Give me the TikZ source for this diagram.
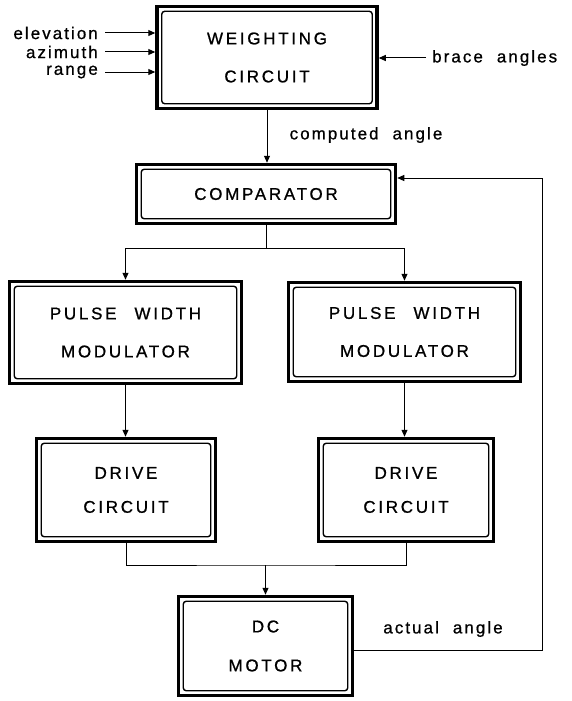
\documentclass[tikz,border=0pt]{standalone}
\usepackage{fontspec}
\setmainfont{Liberation Sans}
\newfontfamily\capsf[LetterSpace=16,FakeBold=0.9]{Liberation Sans}
\newfontfamily\lowsf[LetterSpace=12,FakeBold=0.8]{Liberation Sans}
\usetikzlibrary{arrows.meta}
\tikzset{
  blk/.style={draw, line width=3.5pt, inner sep=0pt, align=center,
    font={\capsf\fontsize{17pt}{38pt}\selectfont}},
  innerbox/.style={line width=1.4pt, rounded corners=3pt},
  arr/.style={line width=1pt, -{Triangle[length=7pt,width=6pt]}},
  ln/.style={line width=1pt},
  lbl/.style={inner sep=0pt, font={\lowsf\fontsize{17pt}{20pt}\selectfont}}
}
\begin{document}
\begin{tikzpicture}[x=1pt,y=-1pt]
\useasboundingbox (0,0) rectangle (572,701);
% blocks
\node[blk, minimum width=220pt, minimum height=102pt] (W) at (267,57.5) {WEIGHTING\\CIRCUIT};
\node[blk, minimum width=259pt, minimum height=59pt] (C) at (266,194) {COMPARATOR};
\node[blk, minimum width=232pt, minimum height=102pt] (P1) at (125.5,332.5) {PULSE\hspace{18pt}WIDTH\\MODULATOR};
\node[blk, minimum width=232pt, minimum height=99pt] (P2) at (404.5,332) {PULSE\hspace{18pt}WIDTH\\MODULATOR};
\node[blk, minimum width=179pt, minimum height=103pt, font={\capsf\fontsize{17pt}{34pt}\selectfont}] (D1) at (126,490) {DRIVE\\CIRCUIT};
\node[blk, minimum width=175pt, minimum height=103pt, font={\capsf\fontsize{17pt}{34pt}\selectfont}] (D2) at (406,490) {DRIVE\\CIRCUIT};
\node[blk, minimum width=174pt, minimum height=99pt, font={\capsf\fontsize{17pt}{39pt}\selectfont}] (M) at (265.5,646) {DC\\MOTOR};
\foreach \n in {W,C,P1,P2,D1,D2,M}
  \draw[innerbox] ([shift={(6.5pt,-6.5pt)}]\n.north west) rectangle ([shift={(-6.5pt,6.5pt)}]\n.south east);
% input labels
\node[lbl, anchor=east] (el) at (98,33) {elevation};
\node[lbl, anchor=east] (az) at (98,52) {azimuth};
\node[lbl, anchor=east] (ra) at (98,72) {range};
\draw[arr] ([xshift=7pt]el.east) -- (el -| W.west);
\draw[arr] ([xshift=7pt]az.east) -- (az -| W.west);
\draw[arr] ([xshift=7pt]ra.east) -- (ra -| W.west);
\node[lbl, anchor=west] (ba) at (432,58) {brace\hspace{14pt}angles};
\draw[arr] ([xshift=-6pt]ba.west) -- (ba -| W.east);
% computed angle
\draw[arr] (W.south) -- (W.south |- C.north);
\node[lbl] (ca) at (366,135) {computed\hspace{14pt}angle};
% branch to PWMs
\coordinate (br) at (C.south |- 0,248);
\draw[ln] (C.south) -- (br);
\draw[arr] (br) -| (P1.north);
\draw[arr] (br) -| (P2.north);
% PWM to drive
\draw[arr] (P1.south) -- (P1.south |- D1.north);
\draw[arr] (P2.south) -- (P2.south |- D2.north);
% merge to motor
\coordinate (mg) at (M.north |- 0,565);
\draw[ln] (D1.south) |- (mg) -| (D2.south);
\draw[arr] (mg) -- (M.north);
% feedback
\coordinate (fb) at (542,650);
\coordinate (fbt) at ([yshift=16pt]C.east);
\draw[arr] (M.east |- fb) -- (fb) |- (fbt);
\node[lbl] (aa) at (443,629) {actual\hspace{14pt}angle};
\end{tikzpicture}
\end{document}
